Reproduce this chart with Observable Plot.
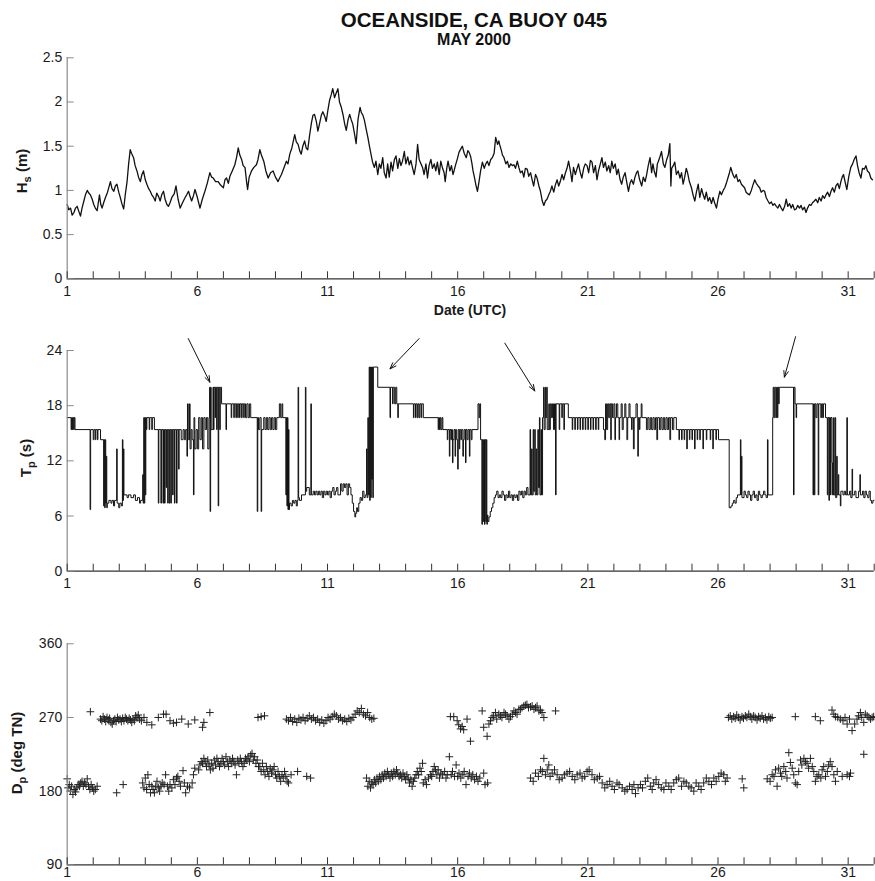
<!DOCTYPE html>
<html><head><meta charset="utf-8">
<script src="https://cdn.jsdelivr.net/npm/d3@7"></script>
<script src="https://cdn.jsdelivr.net/npm/@observablehq/plot@0.6"></script>
<style>
body{margin:0;background:#fff;}
#wrap{position:relative;width:875px;height:881px;overflow:hidden;background:#fff;font-family:"Liberation Sans",Arial,sans-serif;color:#111;}
.t1{position:absolute;left:274px;width:400px;text-align:center;top:10px;font-weight:bold;font-size:20.5px;line-height:20px;}
.t2{position:absolute;left:274px;width:400px;text-align:center;top:32px;font-weight:bold;font-size:16px;line-height:16px;}
svg.pl{position:absolute;left:0;}
</style></head>
<body><div id="wrap"><div class="t1">OCEANSIDE, CA BUOY 045</div><div class="t2">MAY 2000</div></div>
<script>
// ---------------- data ----------------
const dayTicks = [1,2,3,4,5,6,7,8,9,10,11,12,13,14,15,16,17,18,19,20,21,22,23,24,25,26,27,28,29,30,31,32];
const dayLabels = [1,6,11,16,21,26,31];
const hsTicks = [0,0.5,1,1.5,2,2.5];
const tpTicks = [0,6,12,18,24];
const dpTicks = [90,180,270,360];

// significant wave height [day, m]
const hs = [[1.00,.84],[1.06,.78],[1.13,.80],[1.19,.72],[1.26,.75],[1.32,.80],[1.38,.82],[1.45,.76],[1.51,.71],[1.57,.80],[1.64,.88],[1.70,.95],[1.77,1.0],[1.83,.97],[1.89,.95],[1.96,.90],[2.02,.84],[2.08,.80],[2.15,.77],[2.24,.95],[2.29,.84],[2.34,.80],[2.40,.86],[2.47,.92],[2.55,.98],[2.66,1.10],[2.72,1.02],[2.79,.99],[2.85,1.05],[2.91,1.07],[2.98,.98],[3.04,.92],[3.10,.85],[3.17,.79],[3.23,.95],[3.30,1.10],[3.36,1.30],[3.42,1.46],[3.47,1.42],[3.55,1.37],[3.61,1.28],[3.68,1.22],[3.74,1.15],[3.81,1.10],[3.87,1.18],[3.93,1.22],[4.00,1.12],[4.06,1.07],[4.13,1.02],[4.19,.99],[4.25,.95],[4.32,.92],[4.38,.88],[4.44,.97],[4.51,.93],[4.57,.88],[4.63,.95],[4.70,.99],[4.76,.90],[4.83,.84],[4.89,.82],[4.95,.86],[5.02,.92],[5.11,.96],[5.18,1.05],[5.26,.90],[5.34,.80],[5.43,.86],[5.53,.92],[5.59,.95],[5.66,.99],[5.72,.93],[5.78,.88],[5.85,.94],[5.91,1.01],[6.00,.92],[6.10,.80],[6.19,.90],[6.29,.99],[6.38,1.08],[6.48,1.20],[6.55,1.15],[6.61,1.14],[6.70,1.10],[6.80,1.10],[6.89,1.06],[7.00,1.03],[7.06,1.12],[7.12,1.14],[7.19,1.08],[7.25,1.16],[7.34,1.22],[7.44,1.29],[7.51,1.38],[7.57,1.48],[7.63,1.40],[7.70,1.35],[7.76,1.28],[7.83,1.26],[7.89,1.10],[7.93,1.01],[7.99,1.15],[8.08,1.22],[8.17,1.26],[8.27,1.29],[8.33,1.35],[8.40,1.46],[8.46,1.40],[8.55,1.33],[8.63,1.22],[8.72,1.14],[8.81,1.20],[8.91,1.22],[9.00,1.15],[9.10,1.10],[9.16,1.14],[9.23,1.18],[9.32,1.25],[9.42,1.33],[9.48,1.30],[9.55,1.41],[9.63,1.48],[9.74,1.63],[9.80,1.55],[9.87,1.52],[9.93,1.45],[9.99,1.41],[10.05,1.50],[10.12,1.56],[10.18,1.48],[10.24,1.46],[10.31,1.62],[10.38,1.76],[10.44,1.85],[10.50,1.86],[10.57,1.78],[10.63,1.67],[10.69,1.75],[10.76,1.85],[10.82,1.89],[10.89,1.84],[10.95,1.78],[11.01,1.90],[11.08,2.02],[11.14,2.08],[11.20,2.15],[11.27,2.05],[11.33,2.10],[11.40,2.15],[11.46,2.00],[11.53,1.94],[11.60,1.85],[11.66,1.75],[11.72,1.68],[11.79,1.80],[11.85,1.86],[11.91,1.80],[11.97,1.75],[12.03,1.65],[12.10,1.53],[12.17,1.80],[12.25,1.94],[12.30,1.88],[12.36,1.85],[12.42,1.79],[12.48,1.70],[12.55,1.60],[12.61,1.50],[12.67,1.41],[12.73,1.32],[12.80,1.26],[12.86,1.33],[12.93,1.18],[12.99,1.30],[13.05,1.25],[13.12,1.37],[13.18,1.20],[13.25,1.14],[13.31,1.30],[13.37,1.15],[13.44,1.32],[13.50,1.22],[13.57,1.35],[13.63,1.39],[13.70,1.25],[13.76,1.36],[13.82,1.28],[13.88,1.33],[13.95,1.44],[14.01,1.30],[14.08,1.38],[14.14,1.29],[14.20,1.34],[14.27,1.25],[14.33,1.18],[14.40,1.30],[14.46,1.52],[14.52,1.35],[14.59,1.30],[14.65,1.26],[14.71,1.18],[14.78,1.30],[14.84,1.14],[14.90,1.28],[14.97,1.35],[15.03,1.25],[15.10,1.30],[15.16,1.22],[15.22,1.32],[15.29,1.18],[15.35,1.33],[15.42,1.25],[15.48,1.20],[15.52,1.10],[15.58,1.25],[15.63,1.33],[15.70,1.22],[15.76,1.28],[15.82,1.18],[15.86,1.22],[15.93,1.30],[15.99,1.36],[16.05,1.43],[16.12,1.47],[16.18,1.50],[16.25,1.42],[16.33,1.37],[16.39,1.45],[16.44,1.43],[16.50,1.38],[16.55,1.30],[16.59,1.22],[16.65,1.14],[16.70,1.06],[16.76,.99],[16.82,1.10],[16.88,1.22],[16.95,1.32],[17.02,1.25],[17.08,1.30],[17.14,1.33],[17.20,1.28],[17.27,1.35],[17.33,1.37],[17.40,1.42],[17.46,1.60],[17.53,1.52],[17.58,1.56],[17.61,1.52],[17.68,1.45],[17.72,1.40],[17.78,1.37],[17.85,1.30],[17.91,1.33],[17.97,1.26],[18.04,1.30],[18.10,1.28],[18.16,1.29],[18.22,1.25],[18.29,1.33],[18.35,1.26],[18.41,1.20],[18.48,1.22],[18.54,1.15],[18.60,1.25],[18.67,1.24],[18.73,1.16],[18.80,1.20],[18.86,1.12],[18.92,1.05],[18.99,1.18],[19.05,1.14],[19.12,1.05],[19.18,.99],[19.25,.88],[19.31,.83],[19.37,.88],[19.43,.90],[19.50,.95],[19.56,.99],[19.62,1.05],[19.69,.98],[19.75,1.06],[19.82,1.12],[19.88,1.05],[19.94,1.10],[20.01,1.18],[20.07,1.12],[20.14,1.20],[20.20,1.25],[20.26,1.33],[20.33,1.22],[20.39,1.10],[20.45,1.26],[20.52,1.18],[20.58,1.24],[20.64,1.30],[20.71,1.20],[20.77,1.14],[20.84,1.25],[20.90,1.30],[20.97,1.28],[21.03,1.20],[21.10,1.34],[21.16,1.32],[21.22,1.20],[21.29,1.28],[21.35,1.12],[21.41,1.22],[21.48,1.30],[21.54,1.37],[21.60,1.26],[21.67,1.32],[21.73,1.22],[21.80,1.28],[21.86,1.20],[21.92,1.33],[21.98,1.25],[22.05,1.30],[22.11,1.18],[22.17,1.24],[22.24,1.12],[22.30,1.07],[22.36,1.15],[22.43,1.20],[22.49,1.10],[22.56,.99],[22.62,1.08],[22.68,1.12],[22.75,1.07],[22.81,1.15],[22.87,1.20],[22.92,1.22],[22.99,1.12],[23.07,1.05],[23.13,1.15],[23.20,1.10],[23.26,1.18],[23.32,1.28],[23.39,1.37],[23.45,1.20],[23.50,1.30],[23.55,1.22],[23.62,1.15],[23.67,1.30],[23.71,1.33],[23.77,1.38],[23.83,1.44],[23.90,1.30],[23.96,1.26],[24.03,1.35],[24.09,1.40],[24.15,1.53],[24.17,1.30],[24.19,1.05],[24.22,1.25],[24.28,1.28],[24.34,1.32],[24.40,1.18],[24.47,1.22],[24.54,1.14],[24.60,1.20],[24.66,1.07],[24.72,1.15],[24.78,1.25],[24.83,1.20],[24.90,1.10],[24.98,1.03],[25.04,.95],[25.11,.88],[25.17,.98],[25.24,1.07],[25.30,.92],[25.37,1.02],[25.43,.95],[25.49,.90],[25.55,.98],[25.62,.88],[25.68,.92],[25.75,.85],[25.81,.92],[25.87,.86],[25.94,.80],[26.00,.90],[26.07,.99],[26.13,.95],[26.20,1.00],[26.26,1.03],[26.32,1.08],[26.38,1.14],[26.44,1.20],[26.49,1.26],[26.55,1.20],[26.60,1.16],[26.64,1.14],[26.70,1.18],[26.77,1.10],[26.83,1.12],[26.90,1.07],[26.96,1.05],[27.02,1.03],[27.08,.98],[27.15,.96],[27.21,.95],[27.28,1.00],[27.34,1.06],[27.41,1.12],[27.47,1.08],[27.54,1.05],[27.60,1.03],[27.66,.98],[27.73,1.00],[27.79,.99],[27.85,.92],[27.92,.88],[27.98,.85],[28.05,.87],[28.11,.83],[28.17,.85],[28.24,.82],[28.30,.80],[28.36,.84],[28.43,.80],[28.49,.77],[28.56,.82],[28.62,.90],[28.68,.82],[28.75,.85],[28.81,.80],[28.87,.84],[28.94,.78],[29.00,.79],[29.06,.83],[29.13,.80],[29.19,.83],[29.25,.78],[29.32,.81],[29.38,.75],[29.44,.80],[29.51,.84],[29.57,.83],[29.63,.86],[29.70,.88],[29.76,.90],[29.83,.86],[29.89,.92],[29.96,.88],[30.02,.94],[30.09,.91],[30.15,.95],[30.21,.98],[30.28,.93],[30.34,.99],[30.40,1.03],[30.47,.98],[30.53,1.05],[30.60,1.08],[30.66,1.02],[30.72,1.10],[30.77,1.15],[30.82,1.18],[30.88,1.10],[30.95,1.01],[31.02,1.15],[31.10,1.26],[31.17,1.30],[31.23,1.35],[31.30,1.39],[31.36,1.28],[31.42,1.20],[31.49,1.14],[31.55,1.25],[31.62,1.24],[31.68,1.28],[31.74,1.22],[31.81,1.20],[31.87,1.14],[31.93,1.12]];

// peak period [day, s]
const tp = [[1.00,16.7],[1.15,15.4],[1.17,16.7],[1.20,15.4],[1.22,16.7],[1.25,15.4],[1.27,16.7],[1.30,15.4],
[1.88,6.7],[1.90,15.4],[2.00,14.3],[2.03,15.4],[2.08,14.3],[2.10,15.4],[2.16,14.3],[2.18,15.4],[2.28,14.3],
[2.40,7.1],[2.42,14.3],[2.44,6.9],[2.46,14.3],[2.48,7.4],[2.50,12.5],[2.52,6.9],[2.54,7.4],
[2.60,7.7],[2.68,7.4],[2.72,7.7],[2.78,7.1],[2.82,7.7],[2.90,13.3],[2.92,7.4],[2.98,6.9],[3.02,7.4],[3.08,7.1],
[3.12,14.3],[3.14,7.7],[3.16,13.3],[3.18,8.3],[3.30,8.0],[3.35,8.3],[3.45,8.0],[3.55,8.3],[3.62,7.7],[3.70,8.0],[3.78,7.4],[3.82,7.7],
[3.90,10.5],[3.92,7.4],[3.94,16.7],[3.96,7.4],[3.98,16.7],[4.00,8.3],[4.02,16.7],[4.04,15.4],[4.06,16.7],
[4.15,15.4],[4.17,16.7],[4.25,15.4],[4.27,16.7],[4.35,15.4],
[4.50,7.4],[4.52,15.4],[4.60,7.4],[4.62,15.4],[4.68,7.4],[4.70,15.4],[4.74,7.4],[4.76,15.4],[4.80,9.1],[4.82,15.4],[4.86,7.4],[4.88,15.4],[4.92,7.4],[4.94,15.4],[4.98,7.4],[5.00,15.4],[5.05,8.3],[5.07,15.4],[5.12,7.4],[5.14,15.4],[5.20,7.4],[5.22,15.4],[5.28,11.1],[5.30,15.4],[5.38,14.3],[5.45,15.4],[5.50,14.3],[5.55,15.4],
[5.60,12.5],[5.62,18.2],[5.65,14.3],[5.70,18.2],[5.72,13.3],[5.76,15.4],[5.80,14.3],[5.85,8.3],[5.87,16.7],[5.90,13.3],[5.95,15.4],
[6.00,13.3],[6.05,16.7],[6.10,14.3],[6.15,16.7],[6.20,13.3],[6.25,16.7],[6.30,15.4],[6.35,16.7],[6.40,13.3],[6.45,16.7],
[6.47,20.0],[6.49,6.5],[6.51,20.0],[6.53,15.4],[6.60,20.0],[6.62,15.4],[6.64,20.0],[6.68,16.7],[6.70,20.0],[6.74,15.4],[6.76,20.0],[6.80,7.1],[6.82,20.0],[6.86,15.4],[6.88,20.0],
[6.93,18.2],[7.10,15.4],[7.12,18.2],[7.30,16.7],[7.32,18.2],[7.40,16.7],[7.42,18.2],[7.48,16.7],[7.50,18.2],[7.55,16.7],[7.57,18.2],[7.62,16.7],[7.64,18.2],[7.70,16.7],[7.72,18.2],[7.78,16.7],[7.80,18.2],[7.85,16.7],[7.90,18.2],[7.95,16.7],[8.00,18.2],[8.05,16.7],
[8.30,6.5],[8.32,16.7],[8.35,15.4],[8.40,16.7],[8.45,6.5],[8.47,15.4],[8.55,16.7],[8.60,15.4],[8.65,16.7],[8.70,15.4],[8.75,16.7],[8.80,15.4],[8.85,16.7],[8.90,15.4],[8.95,16.7],[9.00,15.4],[9.05,16.7],
[9.15,18.2],[9.20,16.7],[9.25,18.2],[9.28,16.7],
[9.40,8.3],[9.42,16.7],[9.44,7.1],[9.46,16.7],[9.48,6.7],[9.50,15.4],[9.52,6.7],[9.54,7.4],
[9.60,7.1],[9.65,7.7],[9.70,7.4],[9.75,7.7],[9.80,7.1],[9.84,7.7],[9.87,20.0],[9.89,8.0],[9.92,7.7],
[10.00,8.3],[10.15,20.0],[10.17,8.7],[10.20,9.1],[10.30,8.3],[10.36,18.2],[10.38,8.3],
[10.45,8.7],[10.50,8.3],[10.55,8.7],[10.60,8.3],[10.65,8.7],[10.70,8.3],[10.75,8.7],[10.80,8.0],[10.85,8.7],[10.90,8.3],[10.95,8.7],[11.00,8.3],[11.05,8.7],[11.10,8.0],[11.15,8.7],[11.20,9.1],[11.25,8.3],[11.30,8.7],[11.35,9.1],[11.40,8.3],
[11.50,9.5],[11.55,8.7],[11.60,9.5],[11.65,9.1],[11.70,9.5],[11.75,8.3],[11.80,9.5],[11.85,9.1],[11.90,8.3],
[11.95,7.4],[12.00,6.5],[12.05,5.9],[12.08,6.3],[12.12,6.9],[12.15,6.5],[12.20,7.4],[12.25,8.0],[12.30,7.7],[12.35,8.7],[12.40,8.0],[12.45,8.3],
[12.50,13.3],[12.52,8.0],[12.55,16.7],[12.57,8.3],[12.60,22.2],[12.62,7.7],[12.64,22.2],[12.66,8.0],[12.68,22.2],[12.70,10.0],[12.72,22.2],[12.74,8.0],[12.76,22.2],
[12.93,20.0],[13.40,16.7],[13.42,20.0],[13.50,18.2],[13.52,20.0],[13.58,18.2],[13.62,20.0],[13.66,18.2],[13.70,16.7],[13.72,18.2],
[14.30,16.7],[14.32,18.2],[14.38,16.7],[14.40,18.2],[14.45,16.7],[14.48,18.2],[14.52,16.7],[14.55,18.2],[14.60,16.7],[14.62,18.2],[14.68,16.7],
[15.25,15.4],[15.27,16.7],[15.30,15.4],[15.33,16.7],[15.36,15.4],[15.40,16.7],[15.43,15.4],
[15.60,14.3],[15.62,15.4],[15.68,12.5],[15.70,15.4],[15.74,14.3],[15.76,15.4],[15.80,11.8],[15.82,14.3],[15.86,15.4],[15.90,12.5],[15.92,15.4],[15.96,14.3],[16.00,11.1],[16.02,15.4],[16.06,13.3],[16.08,15.4],[16.12,14.3],[16.15,15.4],
[16.20,12.5],[16.22,14.3],[16.25,15.4],[16.30,11.8],[16.32,15.4],[16.36,14.3],[16.40,15.4],[16.45,12.5],[16.47,15.4],[16.52,14.3],[16.55,15.4],
[16.78,18.2],[16.82,16.7],[16.85,18.2],[16.88,14.3],
[16.93,5.1],[16.95,14.3],[16.98,5.4],[17.00,14.3],[17.03,5.1],[17.05,14.3],[17.08,5.4],[17.10,14.3],[17.12,5.1],[17.14,6.1],[17.16,5.4],
[17.20,5.9],[17.25,6.5],[17.30,6.9],[17.35,7.4],[17.40,8.0],
[17.45,8.3],[17.50,8.7],[17.55,8.0],[17.60,8.3],[17.65,8.0],[17.70,8.7],[17.75,8.3],[17.80,7.7],[17.85,8.3],[17.90,8.0],[17.95,8.7],[18.00,8.0],[18.05,8.3],[18.10,7.7],[18.15,8.3],[18.20,8.0],[18.25,8.3],[18.30,7.7],[18.35,8.7],[18.40,8.3],[18.45,8.7],[18.50,8.0],[18.55,8.7],[18.60,8.3],[18.65,9.1],[18.70,8.3],
[18.78,15.4],[18.80,8.3],[18.84,13.3],[18.86,8.3],[18.90,15.4],[18.92,8.7],[18.96,15.4],[18.98,8.3],[19.02,13.3],[19.04,8.3],[19.08,15.4],[19.10,9.1],[19.14,16.7],[19.16,8.3],[19.20,15.4],[19.22,8.3],[19.26,16.7],
[19.30,20.0],[19.32,15.4],[19.36,20.0],[19.38,16.7],[19.42,20.0],[19.44,15.4],
[19.50,18.2],[19.52,15.4],[19.56,18.2],[19.60,16.7],[19.64,18.2],[19.68,15.4],[19.72,18.2],[19.76,8.3],[19.78,18.2],
[19.90,15.4],[19.92,18.2],[20.00,16.7],[20.02,18.2],[20.08,15.4],[20.10,18.2],[20.25,16.7],
[20.40,15.4],[20.42,16.7],[20.50,15.4],[20.52,16.7],[20.60,15.4],[20.62,16.7],[20.70,15.4],[20.72,16.7],[20.80,15.4],[20.82,16.7],[20.90,15.4],[20.92,16.7],[21.00,15.4],[21.02,16.7],[21.10,15.4],[21.12,16.7],[21.20,15.4],[21.22,16.7],[21.30,15.4],[21.32,16.7],[21.40,15.4],[21.42,16.7],
[21.60,15.4],[21.65,14.3],[21.68,18.2],[21.72,15.4],[21.76,18.2],[21.80,16.7],[21.84,18.2],[21.88,14.3],[21.90,18.2],[21.95,16.7],[22.00,18.2],[22.04,14.3],[22.06,16.7],[22.10,18.2],[22.15,16.7],[22.20,14.3],[22.22,16.7],[22.28,18.2],[22.32,15.4],[22.36,16.7],[22.42,18.2],[22.46,16.7],[22.50,14.3],[22.53,16.7],[22.58,18.2],[22.62,16.7],[22.68,15.4],[22.70,16.7],[22.75,13.3],[22.78,16.7],[22.85,18.2],[22.90,16.7],[22.92,12.5],[22.94,16.7],[22.98,15.4],[23.00,16.7],[23.05,18.2],[23.08,16.7],
[23.25,15.4],[23.30,16.7],[23.35,15.4],[23.40,16.7],[23.45,15.4],[23.50,16.7],[23.55,15.4],[23.60,16.7],[23.65,14.3],[23.68,16.7],[23.75,15.4],[23.80,16.7],[23.85,15.4],[23.90,16.7],[23.95,15.4],[24.00,16.7],[24.05,15.4],[24.10,16.7],[24.15,14.3],[24.18,16.7],[24.25,15.4],[24.30,16.7],
[24.40,15.4],[24.50,14.3],[24.52,15.4],[24.60,14.3],[24.62,15.4],[24.70,14.3],[24.72,15.4],[24.80,13.3],[24.82,15.4],[24.90,14.3],[24.92,15.4],[25.00,14.3],[25.02,15.4],[25.10,13.3],[25.12,15.4],[25.20,14.3],[25.22,15.4],[25.30,14.3],[25.32,15.4],[25.42,13.3],[25.44,15.4],[25.55,14.3],[25.57,15.4],[25.70,14.3],[25.72,15.4],[25.80,13.3],[25.82,15.4],[25.92,14.3],[25.94,15.4],
[26.02,14.3],[26.43,6.9],[26.50,7.1],[26.55,7.4],[26.60,7.7],[26.65,7.4],[26.70,8.0],[26.75,8.3],
[26.86,14.3],[26.88,8.3],[26.90,12.5],[26.92,8.0],
[27.00,8.7],[27.05,8.3],[27.10,8.0],[27.15,8.7],[27.20,8.3],[27.25,7.7],[27.30,8.3],[27.35,8.7],[27.40,8.0],[27.45,8.3],[27.50,7.7],[27.55,8.7],[27.60,8.3],[27.65,8.0],[27.70,8.3],[27.75,8.7],[27.80,8.3],[27.85,8.0],[27.90,14.3],[27.92,8.3],
[28.10,16.7],[28.12,20.0],[28.15,16.7],[28.18,20.0],[28.22,16.7],[28.25,20.0],[28.28,16.7],[28.30,20.0],[28.33,18.2],[28.35,20.0],
[28.90,8.3],[28.92,20.0],[28.96,18.2],[29.00,16.7],[29.02,18.2],
[29.65,8.3],[29.67,18.2],[29.70,8.3],[29.72,18.2],[29.76,16.7],[29.80,18.2],[29.85,8.3],[29.87,18.2],[29.95,16.7],[29.98,18.2],[30.02,16.7],[30.05,18.2],
[30.13,16.7],[30.20,8.3],[30.22,16.7],[30.26,7.7],[30.28,16.7],[30.32,8.3],[30.34,16.7],[30.38,11.8],[30.40,8.3],[30.44,16.7],[30.46,8.3],[30.50,16.7],[30.52,8.0],[30.56,12.5],[30.58,8.3],[30.62,10.5],[30.64,8.3],[30.70,7.1],[30.72,8.7],[30.80,8.3],[30.85,8.7],[30.90,8.3],[30.95,16.7],[30.97,8.3],
[31.05,8.7],[31.10,8.0],[31.15,11.1],[31.17,8.3],[31.25,8.7],[31.30,8.0],[31.40,8.7],[31.45,10.5],[31.47,8.3],[31.55,8.7],[31.60,8.0],[31.65,8.7],[31.70,8.3],[31.75,8.0],[31.80,8.7],[31.85,7.7],[31.90,7.4],[31.95,7.7],[32.00,7.7]];

// peak direction [day, deg TN]
const dp = [[1.89,277],[2.28,268],[2.33,266],[2.38,271],[2.43,268],[2.48,265],[2.53,270],[2.58,267],[2.63,269],[2.68,264],[2.73,262],[2.78,266],[2.83,268],[2.88,265],[2.93,270],[2.98,267],[3.03,268],[3.08,265],[3.13,269],[3.18,266],[3.23,270],[3.28,268],[3.33,266],[3.38,269],[3.43,267],[3.48,264],[3.53,268],[3.58,266],[3.63,272],[3.68,270],[3.73,273],[3.78,268],[3.85,266],[3.95,270],[4.06,264],[4.25,261],[4.50,270],[4.70,274],[4.80,274],[4.95,266],[5.08,263],[5.20,264],[5.40,268],[5.65,262],[5.90,267],[6.20,258],[6.25,264],[6.48,276],[8.33,270],[8.45,271],[8.58,272],
[9.42,268],[9.50,266],[9.58,270],[9.66,265],[9.74,268],[9.82,264],[9.90,269],[9.98,267],[10.06,270],[10.14,266],[10.22,269],[10.30,272],[10.38,268],[10.46,270],[10.54,266],[10.62,268],[10.70,264],[10.78,267],[10.86,263],[10.94,266],[11.02,270],[11.10,268],[11.18,271],[11.26,274],[11.34,272],[11.42,268],[11.50,270],[11.58,266],[11.66,268],[11.74,265],[11.82,269],[11.90,267],[11.98,270],[12.06,274],[12.14,278],[12.22,276],[12.30,281],[12.38,274],[12.46,272],[12.54,276],[12.62,270],[12.70,268],[12.78,269],
[1.00,195],[1.03,184],[1.08,188],[1.12,180],[1.17,186],[1.22,176],[1.27,182],[1.32,179],[1.37,184],[1.42,188],[1.47,186],[1.52,190],[1.57,192],[1.62,186],[1.67,190],[1.72,188],[1.77,195],[1.82,186],[1.87,182],[1.92,188],[1.97,184],[2.02,180],[2.08,182],[2.15,186],[2.90,178],[3.15,188],
[3.90,190],[3.95,184],[4.00,196],[4.05,182],[4.10,200],[4.15,188],[4.20,178],[4.25,186],[4.30,182],[4.35,178],[4.40,186],[4.45,192],[4.50,184],[4.55,180],[4.60,186],[4.65,190],[4.72,188],[4.78,200],[4.85,186],[4.90,180],[4.95,188],[5.02,184],[5.08,194],[5.14,188],[5.20,196],[5.25,198],[5.30,192],[5.35,186],[5.45,205],[5.50,190],[5.55,178],[5.62,186],[5.70,184],[5.80,190],[5.85,200],[5.90,208],
[6.05,206],[6.10,212],[6.15,216],[6.20,214],[6.25,220],[6.30,216],[6.35,210],[6.40,218],[6.45,212],[6.50,206],[6.55,214],[6.60,208],[6.65,218],[6.70,212],[6.75,220],[6.80,216],[6.85,210],[6.90,214],[6.95,220],[7.00,216],[7.05,212],[7.10,222],[7.15,216],[7.20,210],[7.25,218],[7.30,214],[7.35,220],[7.40,216],[7.45,212],[7.50,200],[7.55,218],[7.60,214],[7.65,220],[7.70,216],[7.75,210],[7.80,214],[7.85,220],[7.90,218],[7.95,222],[8.00,216],[8.05,224],[8.10,226],[8.15,218],[8.20,222],[8.25,214],[8.30,218],[8.35,210],
[8.40,210],[8.45,204],[8.50,214],[8.55,206],[8.60,200],[8.65,210],[8.70,204],[8.75,198],[8.80,208],[8.85,202],[8.90,206],[8.95,210],[9.00,200],[9.05,196],[9.10,204],[9.15,198],[9.20,192],[9.25,200],[9.30,196],[9.35,204],[9.40,198],[9.45,192],[9.50,190],[9.60,200],[9.85,204],[10.20,198],[10.35,196],
[12.50,196],[12.55,186],[12.60,192],[12.65,184],[12.70,190],[12.75,188],[12.80,194],[12.85,190],[12.90,196],[12.95,192],[13.00,198],[13.05,194],[13.10,200],[13.15,196],[13.20,202],[13.25,198],[13.30,204],[13.35,200],[13.40,196],[13.45,202],[13.50,198],[13.55,204],[13.60,200],[13.65,206],[13.70,202],[13.75,198],[13.80,200],[13.85,196],[13.90,202],[13.95,198],[14.00,194],[14.05,200],[14.10,196],[14.15,190],[14.20,194],[14.25,186],[14.30,192],[14.35,196],[14.40,200],[14.45,204],[14.50,200],[14.55,208],[14.60,204],[14.65,214],
[14.68,190],[14.75,194],[14.80,188],[14.88,196],[14.95,200],[15.00,198],[15.05,204],[15.10,210],[15.15,206],[15.20,200],[15.25,206],[15.30,196],[15.35,202],[15.42,200],[15.50,204],[15.55,196],[15.60,200],[15.68,222],[15.75,200],[15.80,204],[15.88,198],[15.94,212],[16.00,198],[16.05,202],[16.12,196],[16.20,200],[16.25,204],[16.32,188],[16.40,198],[16.45,202],[16.52,196],[16.58,200],[16.65,194],[16.72,198],[16.78,192],[16.85,196],[17.00,202],[17.05,188],[17.15,190],
[15.72,271],[15.85,271],[15.98,266],[16.04,261],[16.11,256],[16.17,259],[16.23,255],[16.36,268],[16.49,241],[16.94,278],[17.00,258],[17.13,247],[17.20,262],[17.26,266],[17.32,270],[17.38,272],[17.45,276],[17.50,268],[17.58,274],[17.64,272],[17.70,270],[17.78,276],[17.84,274],[17.90,272],[17.97,268],[18.03,271],[18.10,274],[18.16,278],[18.22,276],[18.28,274],[18.35,280],[18.41,280],[18.47,282],[18.54,284],[18.60,285],[18.66,286],[18.72,282],[18.80,283],[18.86,284],[18.93,280],[18.99,282],[19.05,284],[19.12,278],[19.18,279],[19.24,276],[19.31,270],[19.76,278],
[18.80,196],[18.90,192],[18.99,202],[19.10,198],[19.18,206],[19.25,204],[19.31,220],[19.37,200],[19.44,206],[19.50,212],[19.55,198],[19.63,202],[19.72,206],[19.82,200],[19.90,194],[20.01,196],[20.10,200],[20.20,202],[20.30,204],[20.40,198],[20.50,194],[20.59,200],[20.70,202],[20.78,196],[20.88,198],[20.97,204],[21.05,206],[21.16,200],[21.25,194],[21.36,196],[21.45,198],[21.55,190],[21.65,184],[21.74,188],[21.84,192],[21.93,186],[22.02,182],[22.12,190],[22.20,188],[22.32,184],[22.42,180],[22.51,182],[22.60,186],[22.70,182],[22.77,188],[22.83,177],[22.93,184],[23.02,188],[23.10,184],[23.21,192],[23.30,196],[23.40,186],[23.47,182],[23.53,190],[23.62,194],[23.72,188],[23.82,184],[23.92,182],[24.00,190],[24.11,186],[24.20,182],[24.30,190],[24.40,194],[24.49,196],[24.60,186],[24.69,192],[24.78,190],[24.88,186],[24.97,184],[25.07,180],[25.16,190],[25.26,186],[25.35,182],[25.45,190],[25.55,196],[25.65,192],[25.75,188],[25.84,196],[25.93,192],[26.03,198],[26.12,202],[26.22,200],[26.28,192],[26.35,196],[26.93,195],[26.99,184],
[26.40,270],[26.47,272],[26.53,268],[26.60,271],[26.66,269],[26.72,273],[26.79,270],[26.85,267],[26.92,271],[26.98,269],[27.05,272],[27.11,270],[27.18,274],[27.24,271],[27.30,268],[27.37,272],[27.43,270],[27.50,267],[27.56,271],[27.62,269],[27.69,272],[27.75,268],[27.82,270],[27.88,267],[27.95,271],[28.01,269],[28.08,270],[28.97,271],[29.74,271],[29.93,266],
[30.38,279],[30.45,274],[30.51,271],[30.60,270],[30.70,268],[30.80,266],[30.88,270],[30.96,262],[31.05,268],[31.15,254],[31.25,262],[31.34,268],[31.40,272],[31.47,276],[31.52,270],[31.60,264],[31.66,274],[31.73,272],[31.80,270],[31.86,268],[31.92,270],[31.98,271],
[27.89,195],[28.00,192],[28.08,200],[28.15,198],[28.21,206],[28.27,186],[28.33,208],[28.40,202],[28.45,198],[28.53,210],[28.60,204],[28.65,196],[28.72,227],[28.78,215],[28.85,208],[28.91,200],[28.97,190],[29.04,188],[29.10,204],[29.17,218],[29.22,212],[29.30,220],[29.36,216],[29.42,214],[29.48,208],[29.55,220],[29.62,210],[29.68,204],[29.74,192],[29.80,198],[29.87,200],[29.95,196],[30.00,206],[30.06,210],[30.13,198],[30.20,204],[30.25,212],[30.31,216],[30.38,210],[30.45,200],[30.51,192],[30.58,204],[30.77,198],[30.96,200],[31.05,198],[31.09,202],[31.60,225]];

// annotation arrows (tail -> head), in data units of the Tp panel
const arrowX1 = [5.65, 14.52, 17.81, 28.98];
const arrowY1 = [25.3, 25.3, 24.8, 25.5];
const arrowX2 = [6.48, 13.40, 18.96, 28.55];
const arrowY2 = [20.55, 22.0, 19.6, 21.1];
const arrows = arrowX1.map((x, i) => ({x1: x, y1: arrowY1[i], x2: arrowX2[i], y2: arrowY2[i]}));

// ---------------- layout ----------------
const W = 875, ML = 66.7, MR = 1.3;
const FONT = "'Liberation Sans', Arial, sans-serif";
const wrap = document.getElementById("wrap");

function panel({top, height, mt, mb, yDomain, yTicks, marks, xPad = 7}) {
  const frameH = height - mt - mb;
  const frameW = W - ML - MR;
  const svg = Plot.plot({
    width: W, height,
    marginLeft: ML, marginRight: MR, marginTop: mt, marginBottom: mb,
    x: {domain: [1, 32]},
    y: {domain: yDomain},
    style: {fontFamily: FONT, fontSize: "14px", color: "#1a1a1a", background: "transparent", overflow: "visible"},
    marks: [
      ...marks,
      Plot.ruleX([1], {stroke: "#8a8a8a", strokeWidth: 1.2}),
      Plot.ruleY([yDomain[0]], {stroke: "#333", strokeWidth: 1.2}),
      Plot.tickX(dayTicks, {x: d => d, insetTop: frameH - 7, stroke: "#333", strokeWidth: 1}),
      Plot.tickY(yTicks, {y: d => d, insetRight: frameW - 7, stroke: "#8a8a8a", strokeWidth: 1}),
      Plot.axisX({ticks: dayLabels, tickSize: 0, tickPadding: xPad, tickFormat: d => String(d), label: null, fontSize: 14}),
      Plot.axisY({ticks: yTicks, tickSize: 0, tickPadding: 5, tickFormat: d => String(d), label: null, fontSize: 14})
    ]
  });
  svg.classList.add("pl");
  svg.style.top = top + "px";
  wrap.appendChild(svg);
  return svg;
}

function ylabel(svg, x, y, main, sub, rest) {
  const t = d3.select(svg).append("text")
    .attr("transform", `translate(${x},${y}) rotate(-90)`)
    .attr("text-anchor", "middle")
    .attr("font-family", FONT).attr("font-weight", "bold").attr("font-size", 15).attr("fill", "#1a1a1a");
  t.append("tspan").text(main);
  t.append("tspan").attr("dy", 4).attr("font-size", 11).text(sub);
  t.append("tspan").attr("dy", -4).text(rest);
}

// Panel 1: Hs
const s1 = panel({
  top: 45, height: 280, mt: 12.3, mb: 46.7, yDomain: [0, 2.5], yTicks: hsTicks,
  marks: [Plot.line(hs, {x: d => d[0], y: d => d[1], stroke: "#111", strokeWidth: 1.3})]
});
ylabel(s1, 27, 126, "H", "s", " (m)");
d3.select(s1).append("text").attr("x", 470).attr("y", 270).attr("text-anchor", "middle")
  .attr("font-family", FONT).attr("font-weight", "bold").attr("font-size", 14).attr("fill", "#1a1a1a").text("Date (UTC)");

// Panel 2: Tp
const s2 = panel({
  top: 325, height: 270, mt: 25, mb: 24.3, yDomain: [0, 24], yTicks: tpTicks,
  marks: [
    Plot.line(tp, {x: d => d[0], y: d => d[1], curve: "step-after", stroke: "#111", strokeWidth: 1}),
    Plot.arrow(arrows, {x1: "x1", y1: "y1", x2: "x2", y2: "y2", stroke: "#111", strokeWidth: 1, headLength: 10, headAngle: 40})
  ]
});
ylabel(s2, 31, 133, "T", "p", " (s)");

// Panel 3: Dp
const s3 = panel({
  top: 625, height: 256, mt: 18.3, mb: 16.7, yDomain: [90, 360], yTicks: dpTicks, xPad: 2,
  marks: [Plot.dot(dp, {x: d => d[0], y: d => d[1], symbol: "plus", r: 2.6, stroke: "#222", strokeWidth: 1})]
});
ylabel(s3, 22, 128, "D", "p", " (deg TN)");
</script>
</body></html>
